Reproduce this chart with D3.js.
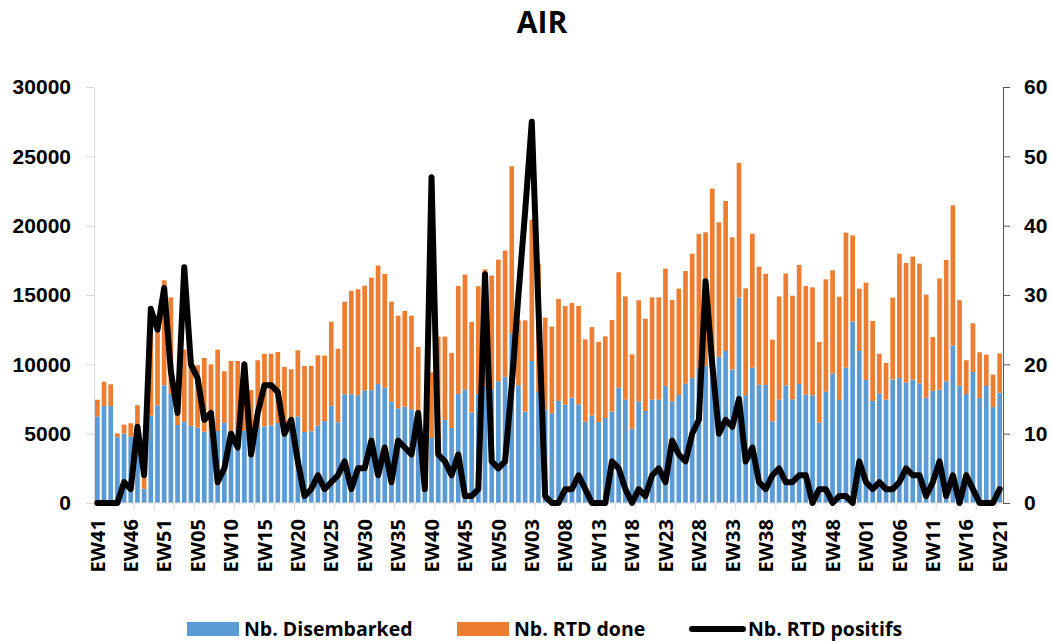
<!DOCTYPE html>
<html>
<head>
<meta charset="utf-8">
<script src="https://cdn.jsdelivr.net/npm/d3@7"></script>
<style>
  body { margin: 0; background: #fff; }
  svg { display: block; font-family: "Open Sans", "DejaVu Sans", sans-serif; font-weight: bold; }
</style>
</head>
<body>
<div id="chart"></div>
<script>
// week ranges per year (first week, last week)
const weekSegments = [[41, 51], [1, 52], [1, 52], [1, 21]];

const disembarked = [
  6250, 7000, 7000, 4740, 5000, 4780, 5000, 1030, 6300, 7040,
  8490, 7890, 5630, 5870, 5580, 5430, 5140, 5170, 5190, 5790,
  5120, 5000, 5200, 5000, 5480, 5530, 5600, 5770, 5480, 6080,
  6250, 5120, 5170, 5580, 5910, 7000, 5820, 7840, 7840, 7770,
  8130, 8130, 8580, 8320, 7310, 6830, 6950, 6760, 6500, 800,
  4690, 4500, 5990, 5410, 7860, 8200, 6520, 7840, 8440, 8200,
  8780, 9110, 12210, 8490, 6590, 10240, 8000, 6760, 6470, 7360,
  7090, 7600, 7120, 5870, 6310, 5840, 6130, 6590, 8320, 7450,
  5360, 7330, 6640, 7450, 7450, 8460, 7330, 7790, 8600, 9010,
  9760, 9900, 10500, 10550, 10960, 9620, 14830, 7770, 9760, 8530,
  8520, 5890, 7450, 8490, 7480, 8580, 7810, 7770, 5790, 8030,
  9330, 7430, 9760, 13080, 10960, 8870, 7360, 7890, 7450, 8900,
  9010, 8700, 8900, 8630, 7600, 8090, 8180, 8770, 11350, 8460,
  7860, 9450, 7570, 8440, 6920, 7960
];

const rtdDone = [
  1200, 1750, 1560, 280, 650, 970, 2050, 770, 6700, 6460,
  7570, 6940, 870, 5190, 4920, 4500, 5320, 4830, 5870, 3710,
  5120, 5240, 3800, 3150, 4810, 5220, 5170, 5120, 4330, 3560,
  4760, 4760, 4730, 5070, 4720, 6080, 5310, 6680, 7470, 7640,
  7540, 8120, 8540, 8200, 7210, 6680, 6900, 6750, 4750, 400,
  4730, 7500, 6010, 5410, 7790, 8270, 6530, 7790, 8410, 8200,
  8770, 9090, 12070, 4680, 6580, 10190, 9240, 6610, 6250, 7350,
  7120, 6820, 7090, 5930, 6370, 5780, 5890, 6610, 8320, 7450,
  5360, 7290, 6650, 7380, 7380, 8440, 7310, 7670, 8130, 8970,
  9640, 9620, 12170, 9690, 10820, 9540, 9690, 7710, 9660, 8510,
  8010, 5890, 7450, 8070, 7470, 8590, 7840, 7780, 5820, 8100,
  7450, 7450, 9740, 6220, 4500, 7020, 5770, 2880, 2650, 5910,
  8970, 8610, 8870, 8630, 7430, 3880, 8010, 8760, 10120, 6160,
  2430, 3510, 3300, 2260, 2340, 2830
];

const rtdPositive = [
  0, 0, 0, 0, 3, 2, 11, 4, 28, 25,
  31, 19, 13, 34, 20, 18, 12, 13, 3, 5,
  10, 8, 20, 7, 13, 17, 17, 16, 10, 12,
  6, 1, 2, 4, 2, 3, 4, 6, 2, 5,
  5, 9, 4, 8, 3, 9, 8, 7, 13, 2,
  47, 7, 6, 4, 7, 1, 1, 2, 33, 6,
  5, 6, 17, 30, 42, 55, 28, 1, 0, 0,
  2, 2, 4, 2, 0, 0, 0, 6, 5, 2,
  0, 2, 1, 4, 5, 3, 9, 7, 6, 10,
  12, 32, 20, 10, 12, 11, 15, 6, 8, 3,
  2, 4, 5, 3, 3, 4, 4, 0, 2, 2,
  0, 1, 1, 0, 6, 3, 2, 3, 2, 2,
  3, 5, 4, 4, 1, 3, 6, 1, 4, 0,
  4, 2, 0, 0, 0, 2
];

const leftTicks = [0, 5000, 10000, 15000, 20000, 25000, 30000];
const rightTicks = [0, 10, 20, 30, 40, 50, 60];
const seriesNames = ["Nb. Disembarked", "Nb. RTD done", "Nb. RTD positifs"];
const colors = ["#5b9bd5", "#ed7d31", "#000000"];

// build week labels
const weeks = [];
weekSegments.forEach((s, y) => {
  for (let w = s[0]; w <= s[1]; w++) weeks.push(`${y}-EW${String(w).padStart(2, "0")}`);
});
const label = k => k.split("-")[1];

const width = 1053;
const height = 641;
const margin = { top: 87, right: 50, bottom: 138, left: 94 };

const x = d3.scaleBand()
    .domain(weeks)
    .range([margin.left, width - margin.right])
    .paddingInner(0.3)
    .paddingOuter(0.15);

const yL = d3.scaleLinear()
    .domain([0, 30000])
    .range([height - margin.bottom, margin.top]);

const yR = d3.scaleLinear()
    .domain([0, 60])
    .range([height - margin.bottom, margin.top]);

const svg = d3.create("svg")
    .attr("width", width)
    .attr("height", height)
    .attr("viewBox", [0, 0, width, height]);

d3.select("#chart").append(() => svg.node());

// title
svg.append("text")
    .attr("x", 542)
    .attr("y", 33)
    .attr("text-anchor", "middle")
    .style("font-size", "30px")
    .text("AIR");

// left axis
svg.append("g")
    .attr("transform", `translate(${margin.left},0)`)
    .call(d3.axisLeft(yL).tickValues(leftTicks).tickSize(8).tickPadding(15).tickFormat(d3.format("d")))
    .call(g => g.selectAll("path, line").attr("stroke", "#d9d9d9"))
    .call(g => g.selectAll("text").attr("fill", "#000").style("font-size", "21px").style("font-family", "inherit"));

// right axis
svg.append("g")
    .attr("transform", `translate(${width - margin.right},0)`)
    .call(d3.axisRight(yR).tickValues(rightTicks).tickSize(7).tickPadding(14))
    .call(g => g.selectAll("path, line").attr("stroke", "#595959"))
    .call(g => g.selectAll("text").attr("fill", "#000").style("font-size", "21px").style("font-family", "inherit"));

// bars: disembarked at the bottom, RTD done stacked on top
const bars = svg.append("g");
bars.selectAll("rect.d")
    .data(weeks)
    .join("rect")
    .attr("class", "d")
    .attr("x", d => x(d))
    .attr("width", x.bandwidth())
    .attr("y", (d, i) => yL(disembarked[i]))
    .attr("height", (d, i) => yL(0) - yL(disembarked[i]))
    .attr("fill", colors[0]);

bars.selectAll("rect.r")
    .data(weeks)
    .join("rect")
    .attr("class", "r")
    .attr("x", d => x(d))
    .attr("width", x.bandwidth())
    .attr("y", (d, i) => yL(disembarked[i] + rtdDone[i]))
    .attr("height", (d, i) => yL(disembarked[i]) - yL(disembarked[i] + rtdDone[i]))
    .attr("fill", colors[1]);

// x axis: line, tick marks every 3 weeks, labels every 5 weeks
const xAxis = svg.append("g");
const y0 = yL(0);
xAxis.append("line")
    .attr("x1", margin.left).attr("x2", width - margin.right)
    .attr("y1", y0).attr("y2", y0)
    .attr("stroke", "#d9d9d9");

const step = x.step();
const x0 = x.range()[0];
xAxis.selectAll("line.tick")
    .data(d3.range(0, weeks.length + 1, 3))
    .join("line")
    .attr("class", "tick")
    .attr("x1", i => x0 + i * step).attr("x2", i => x0 + i * step)
    .attr("y1", y0).attr("y2", y0 + 7)
    .attr("stroke", "#d9d9d9");

xAxis.selectAll("text")
    .data(weeks.filter((d, i) => i % 5 === 0))
    .join("text")
    .attr("transform", d => `translate(${x(d) + x.bandwidth() / 2},${y0 + 16}) rotate(-90)`)
    .attr("text-anchor", "end")
    .attr("dy", "0.36em")
    .style("font-size", "20px")
    .text(d => label(d));

// line of positives
const line = d3.line()
    .x(d => x(d) + x.bandwidth() / 2)
    .y((d, i) => yR(rtdPositive[i]));

svg.append("path")
    .datum(weeks)
    .attr("d", line)
    .attr("fill", "none")
    .attr("stroke", colors[2])
    .attr("stroke-width", 6)
    .attr("stroke-linejoin", "round")
    .attr("stroke-linecap", "round");

// legend
const legend = svg.append("g");
const lgY = 629;
const items = [
  { x: 187, text: 244, type: "rect" },
  { x: 457, text: 514, type: "rect" },
  { x: 689, text: 748, type: "line" }
];
items.forEach((it, i) => {
  if (it.type === "rect") {
    legend.append("rect")
        .attr("x", it.x).attr("y", lgY - 7)
        .attr("width", 52).attr("height", 14)
        .attr("fill", colors[i]);
  } else {
    legend.append("line")
        .attr("x1", it.x + 3).attr("x2", it.x + 54)
        .attr("y1", lgY).attr("y2", lgY)
        .attr("stroke", colors[i])
        .attr("stroke-width", 6)
        .attr("stroke-linecap", "round");
  }
  legend.append("text")
      .attr("x", it.text)
      .attr("y", lgY)
      .attr("dy", "0.36em")
      .style("font-size", "19.5px")
      .text(seriesNames[i]);
});
</script>
</body>
</html>
